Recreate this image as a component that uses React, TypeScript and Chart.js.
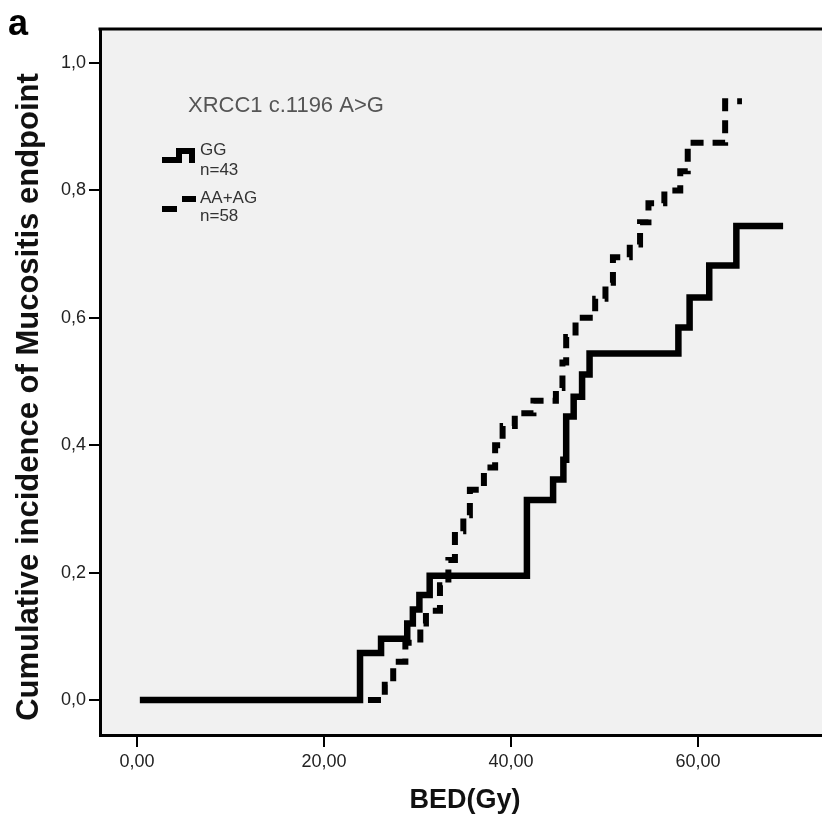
import React, { useEffect, useRef } from "react";
import { Chart, registerables } from "chart.js";

Chart.register(...registerables);

// GG (n=43) – solid step curve
const ggX = [0.3, 23.85, 26.1, 28.9, 29.5, 30.2, 31.3, 41.7, 44.5, 45.6, 45.9, 46.7, 47.6, 48.4, 57.9, 59.1, 61.2, 64.1, 69.1];
const ggY = [0, 0.074, 0.096, 0.12, 0.142, 0.165, 0.195, 0.314, 0.346, 0.377, 0.445, 0.476, 0.511, 0.544, 0.585, 0.632, 0.682, 0.744, 0.744];

// AA+AG (n=58) – dashed step curve
const aaX = [24.7, 26.5, 27.4, 28.7, 30.3, 30.9, 32.4, 33.3, 34.0, 34.9, 35.6, 37.1, 38.3, 39.1, 40.4, 42.4, 44.8, 45.5, 45.9, 46.9, 49.0, 50.1, 50.9, 52.7, 53.8, 54.7, 56.4, 58.1, 58.9, 62.9, 64.7];
const aaY = [0, 0.024, 0.06, 0.09, 0.12, 0.14, 0.18, 0.22, 0.265, 0.29, 0.33, 0.365, 0.4, 0.43, 0.45, 0.47, 0.49, 0.53, 0.57, 0.6, 0.63, 0.655, 0.695, 0.715, 0.75, 0.78, 0.8, 0.83, 0.875, 0.94, 0.94];

const xTicks = [0, 20, 40, 60];
const yTicks = [0, 0.2, 0.4, 0.6, 0.8, 1.0];

const panelLabel = "a";
const annotation = "XRCC1 c.1196 A>G";
const seriesNames = ["GG", "AA+AG"];
const seriesN = ["n=43", "n=58"];
const xTitle = "BED(Gy)";
const yTitle = "Cumulative incidence of Mucositis endpoint";

const FONT = "'Liberation Sans', Arial, sans-serif";

const decoPlugin = {
  id: "deco",
  beforeDraw(chart: any) {
    const { ctx, chartArea: a } = chart;
    ctx.save();
    ctx.fillStyle = "#f1f1f1";
    ctx.fillRect(a.left, a.top, a.right - a.left, a.bottom - a.top);
    ctx.restore();
  },
  afterDraw(chart: any) {
    const { ctx, chartArea: a } = chart;
    ctx.save();
    // top frame line
    ctx.strokeStyle = "#000";
    ctx.lineWidth = 3;
    ctx.beginPath();
    ctx.moveTo(a.left - 1.5, a.top);
    ctx.lineTo(a.right, a.top);
    ctx.stroke();

    // panel label
    ctx.fillStyle = "#000";
    ctx.font = `bold 36px ${FONT}`;
    ctx.textBaseline = "alphabetic";
    ctx.textAlign = "left";
    ctx.fillText(panelLabel, 8, 35);

    // y title
    ctx.save();
    ctx.translate(38, 397);
    ctx.rotate(-Math.PI / 2);
    ctx.font = `bold 31px ${FONT}`;
    ctx.textAlign = "center";
    ctx.textBaseline = "alphabetic";
    ctx.fillStyle = "#111";
    ctx.fillText(yTitle, 0, 0);
    ctx.restore();

    // x title
    ctx.font = `bold 27px ${FONT}`;
    ctx.textAlign = "center";
    ctx.textBaseline = "alphabetic";
    ctx.fillStyle = "#111";
    ctx.fillText(xTitle, 465, 808);

    // annotation
    ctx.font = `22px ${FONT}`;
    ctx.textAlign = "left";
    ctx.textBaseline = "middle";
    ctx.fillStyle = "#555";
    ctx.fillText(annotation, 188, 106);

    // legend symbols
    ctx.strokeStyle = "#000";
    ctx.lineWidth = 6;
    ctx.lineJoin = "miter";
    ctx.lineCap = "butt";
    ctx.beginPath();
    ctx.moveTo(162, 160);
    ctx.lineTo(179, 160);
    ctx.lineTo(179, 151);
    ctx.lineTo(192, 151);
    ctx.lineTo(192, 163);
    ctx.stroke();
    ctx.beginPath();
    ctx.moveTo(162, 209);
    ctx.lineTo(177, 209);
    ctx.moveTo(182, 199);
    ctx.lineTo(196, 199);
    ctx.stroke();

    // legend text
    ctx.font = `17px ${FONT}`;
    ctx.fillStyle = "#333";
    ctx.textBaseline = "middle";
    ctx.fillText(seriesNames[0], 200, 150);
    ctx.fillText(seriesN[0], 200, 170);
    ctx.fillText(seriesNames[1], 200, 198);
    ctx.fillText(seriesN[1], 200, 216);
    ctx.restore();
  },
};

export default function App() {
  const ref = useRef<HTMLCanvasElement>(null);

  useEffect(() => {
    document.body.style.margin = "0";
    const canvas = ref.current;
    if (!canvas) return;
    const chart = new Chart(canvas, {
      type: "line",
      data: {
        datasets: [
          {
            label: seriesNames[0],
            data: ggX.map((x, i) => ({ x, y: ggY[i] })),
            borderColor: "#000",
            borderWidth: 6.5,
            stepped: true,
            pointRadius: 0,
            borderCapStyle: "butt",
            borderJoinStyle: "miter",
            fill: false,
          },
          {
            label: seriesNames[1],
            data: aaX.map((x, i) => ({ x, y: aaY[i] })),
            borderColor: "#000",
            borderWidth: 6,
            borderDash: [13, 9],
            stepped: true,
            pointRadius: 0,
            borderCapStyle: "butt",
            borderJoinStyle: "miter",
            fill: false,
          },
        ],
      },
      options: {
        animation: false,
        responsive: false,
        maintainAspectRatio: false,
        layout: { padding: { top: 29, left: 0, right: 0, bottom: 0 }, autoPadding: false },
        plugins: {
          legend: { display: false },
          tooltip: { enabled: false },
        },
        scales: {
          x: {
            type: "linear",
            min: -3.96,
            max: 73.26,
            afterBuildTicks: (s: any) => {
              s.ticks = xTicks.map((v) => ({ value: v }));
            },
            afterFit: (s: any) => {
              s.height = 83;
            },
            grid: { drawOnChartArea: false, drawTicks: true, tickLength: 12, color: "#000", lineWidth: 2 },
            border: { display: true, color: "#000", width: 3 },
            ticks: {
              padding: 4,
              color: "#222",
              font: { family: FONT, size: 18 },
              maxRotation: 0,
              callback: (v: any) => Number(v).toFixed(2).replace(".", ","),
            },
          },
          y: {
            type: "linear",
            min: -0.0549,
            max: 1.0534,
            afterBuildTicks: (s: any) => {
              s.ticks = yTicks.map((v) => ({ value: v }));
            },
            afterFit: (s: any) => {
              s.width = 100;
            },
            grid: { drawOnChartArea: false, drawTicks: true, tickLength: 11, color: "#000", lineWidth: 2 },
            border: { display: true, color: "#000", width: 3 },
            ticks: {
              padding: 3,
              color: "#222",
              font: { family: FONT, size: 18 },
              callback: (v: any) => Number(v).toFixed(1).replace(".", ","),
            },
          },
        },
      },
      plugins: [decoPlugin],
    } as any);
    return () => chart.destroy();
  }, []);

  return (
    <div style={{ width: 822, height: 818, background: "#fff" }}>
      <canvas ref={ref} width={822} height={818} style={{ display: "block", width: 822, height: 818 }} />
    </div>
  );
}
